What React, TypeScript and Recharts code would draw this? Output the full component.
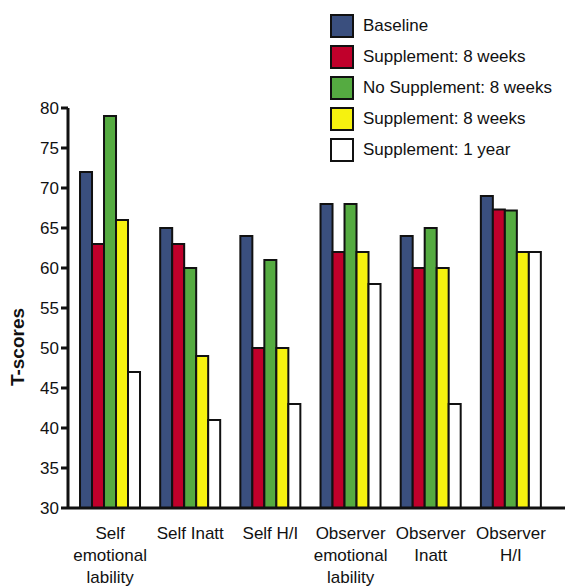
import React from "react";
import { BarChart, Bar, XAxis, YAxis } from "recharts";

const categories = [
  "Self\nemotional\nlability",
  "Self Inatt",
  "Self H/I",
  "Observer\nemotional\nlability",
  "Observer\nInatt",
  "Observer\nH/I",
];

const baseline = [72, 65, 64, 68, 64, 69];
const supp8 = [63, 63, 50, 62, 60, 67.3];
const noSupp8 = [79, 60, 61, 68, 65, 67.2];
const supp8b = [66, 49, 50, 62, 60, 62];
const supp1y = [47, 41, 43, 58, 43, 62];

const yTicks = [30, 35, 40, 45, 50, 55, 60, 65, 70, 75, 80];

const series = [
  { key: "baseline", name: "Baseline", color: "#3a4f7e" },
  { key: "supp8", name: "Supplement: 8 weeks", color: "#c0002b" },
  { key: "noSupp8", name: "No Supplement: 8 weeks", color: "#55ab41" },
  { key: "supp8b", name: "Supplement: 8 weeks", color: "#f6f20f" },
  { key: "supp1y", name: "Supplement: 1 year", color: "#ffffff" },
];

const data = categories.map((name, i) => ({
  name,
  baseline: baseline[i],
  supp8: supp8[i],
  noSupp8: noSupp8[i],
  supp8b: supp8b[i],
  supp1y: supp1y[i],
}));

const FONT = "'Liberation Sans Narrow', 'Liberation Sans', Arial, sans-serif";

const CategoryTick = (props: any) => {
  const { x, y, payload } = props;
  const lines = String(payload.value).split("\n");
  return (
    <g transform={`translate(${x},${y})`}>
      {lines.map((l, i) => (
        <text
          key={i}
          x={0}
          y={23 + i * 22}
          textAnchor="middle"
          fontSize={17}
          fontFamily={FONT}
          fill="#111"
        >
          {l}
        </text>
      ))}
    </g>
  );
};

const LegendBox = () => (
  <div
    style={{
      position: "absolute",
      left: 330,
      top: 10,
      fontFamily: FONT,
      fontSize: 17,
      color: "#111",
    }}
  >
    {series.map((s) => (
      <div
        key={s.key}
        style={{ display: "flex", alignItems: "center", height: 31 }}
      >
        <div
          style={{
            width: 20,
            height: 20,
            background: s.color,
            border: "2px solid #111",
            marginRight: 9,
          }}
        />
        <span>{s.name}</span>
      </div>
    ))}
  </div>
);

export default function App() {
  return (
    <div style={{ position: "absolute", left: 0, top: 0, width: 565, height: 588 }}>
      <BarChart
        width={565}
        height={588}
        data={data}
        margin={{ top: 108, right: 0, bottom: 50, left: 0 }}
        barCategoryGap="12.5%"
        barGap={0}
      >
        <XAxis
          dataKey="name"
          tick={<CategoryTick />}
          tickLine={false}
          interval={0}
          axisLine={{ stroke: "#111", strokeWidth: 3 }}
          padding={{ left: 2, right: 14 }}
        />
        <YAxis
          domain={[30, 80]}
          ticks={yTicks}
          width={68}
          tickSize={7}
          allowDataOverflow
          axisLine={{ stroke: "#111", strokeWidth: 3 }}
          tickLine={{ stroke: "#111", strokeWidth: 3 }}
          tick={{ fill: "#111", fontSize: 17, fontFamily: FONT }}
          label={{
            content: () => (
              <text
                x={24}
                y={347}
                transform="rotate(-90 24 347)"
                textAnchor="middle"
                fontSize={19}
                fontWeight="bold"
                fontFamily={FONT}
                fill="#111"
              >
                T-scores
              </text>
            ),
          }}
        />
        {series.map((s) => (
          <Bar
            key={s.key}
            dataKey={s.key}
            name={s.name}
            fill={s.color}
            stroke="#111"
            strokeWidth={2}
            isAnimationActive={false}
          />
        ))}
      </BarChart>
      <LegendBox />
    </div>
  );
}
